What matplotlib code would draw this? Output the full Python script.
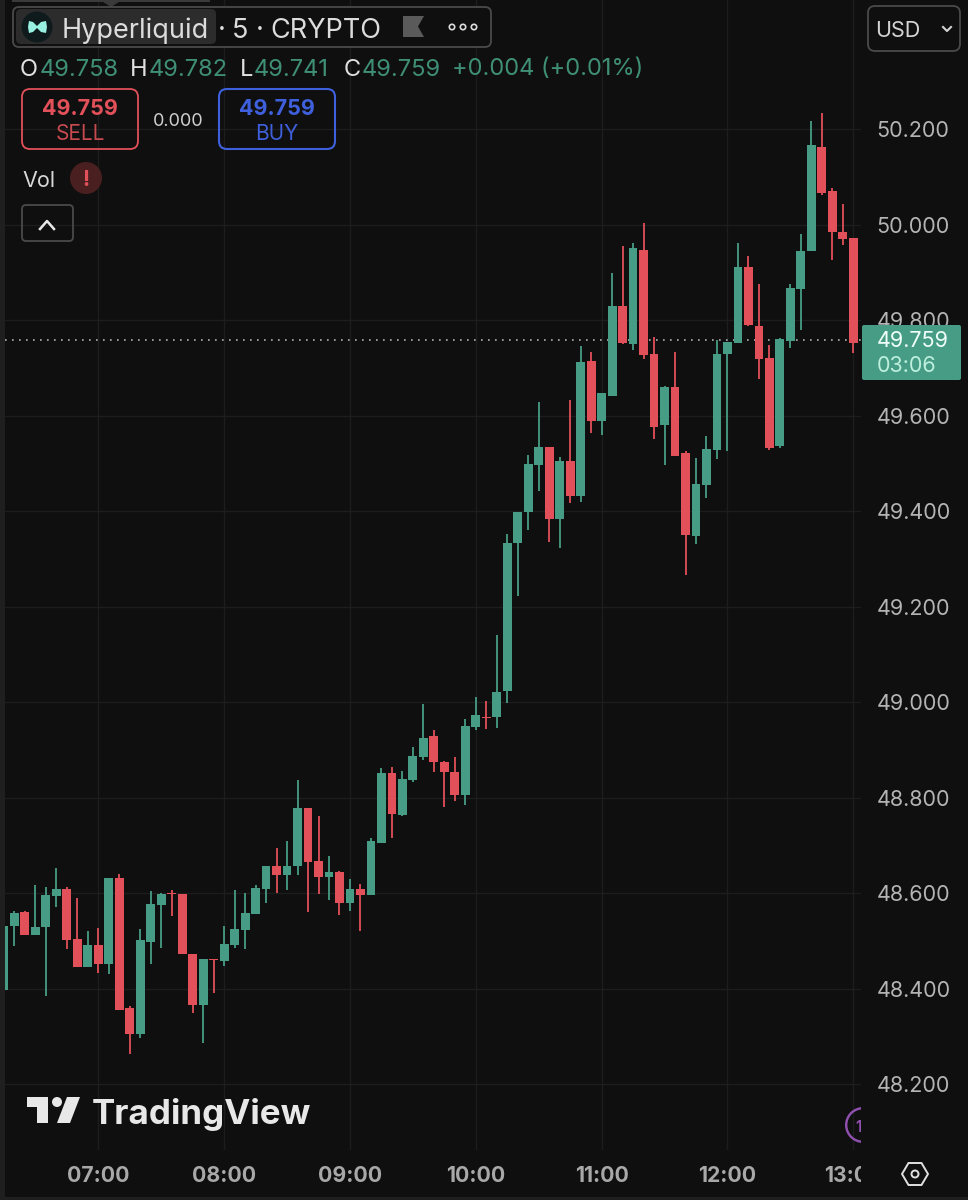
import matplotlib
matplotlib.use("Agg")
import matplotlib.pyplot as plt
from matplotlib.patches import FancyBboxPatch, Rectangle, Circle, Polygon, Wedge

# ---- data ----
opens = [48.398,48.532,48.560,48.513,48.530,48.594,48.608,48.504,48.446,48.491,48.451,48.633,48.360,48.306,48.499,48.576,48.600,48.598,48.474,48.366,48.463,48.458,48.491,48.523,48.557,48.608,48.658,48.639,48.657,48.778,48.668,48.634,48.645,48.580,48.609,48.597,
         48.706,48.851,48.763,48.837,48.886,48.929,48.875,48.853,48.806,48.949,48.970,48.969,49.024,49.333,49.398,49.497,49.534,49.383,49.504,
         49.432,49.714,49.589,49.642,49.829,49.749,49.947,49.729,49.580,49.659,49.521,49.349,49.455,49.529,49.729,49.751,49.912,49.788,49.721,49.536,49.757,49.866,49.945,50.163,50.071,49.985,49.972]
highs = [48.532,48.562,48.564,48.617,48.614,48.654,48.614,48.591,48.521,48.527,48.633,48.640,48.365,48.525,48.605,48.600,48.607,48.598,48.474,48.463,48.463,48.532,48.606,48.600,48.617,48.658,48.695,48.710,48.837,48.778,48.761,48.678,48.647,48.630,48.620,48.715,
         48.862,48.864,48.856,48.907,48.996,48.941,48.877,48.886,48.964,49.012,49.002,49.141,49.352,49.399,49.518,49.629,49.534,49.513,49.633,
         49.746,49.734,49.648,49.899,49.956,49.961,50.004,49.764,49.663,49.734,49.526,49.511,49.558,49.758,49.755,49.961,49.934,49.876,49.747,49.762,49.875,49.980,50.217,50.233,50.076,50.043,49.972]
lows = [48.398,48.490,48.512,48.513,48.385,48.572,48.483,48.446,48.446,48.434,48.432,48.356,48.263,48.297,48.451,48.486,48.553,48.473,48.349,48.286,48.392,48.448,48.486,48.483,48.557,48.580,48.600,48.606,48.639,48.560,48.598,48.585,48.555,48.562,48.521,48.597,
        48.706,48.715,48.762,48.832,48.879,48.853,48.780,48.793,48.784,48.941,48.944,48.947,48.999,49.223,49.361,49.442,49.336,49.322,49.418,
        49.420,49.563,49.559,49.642,49.750,49.737,49.718,49.552,49.497,49.515,49.266,49.331,49.428,49.510,49.525,49.751,49.788,49.677,49.528,49.532,49.742,49.779,49.945,50.062,49.926,49.957,49.732]
closes = [48.532,48.558,48.512,48.529,48.597,48.608,48.502,48.446,48.491,48.451,48.633,48.356,48.306,48.502,48.577,48.599,48.598,48.473,48.366,48.462,48.460,48.494,48.525,48.558,48.612,48.658,48.639,48.658,48.778,48.666,48.634,48.645,48.580,48.609,48.597,48.709,
          48.851,48.765,48.839,48.888,48.925,48.874,48.855,48.806,48.950,48.973,48.968,49.021,49.334,49.399,49.499,49.534,49.383,49.504,49.432,
          49.713,49.589,49.648,49.829,49.753,49.950,49.727,49.577,49.659,49.515,49.351,49.457,49.530,49.730,49.755,49.912,49.790,49.718,49.532,49.760,49.867,49.945,50.166,50.067,49.984,49.970,49.753]
first_bar = -9                     # bars relative to 07:00, 5-minute bars
hour_ticks = [0, 12, 24, 36, 48, 60, 72]
hour_labels = ["07:00", "08:00", "09:00", "10:00", "11:00", "12:00", "13:00"]
price_ticks = [48.2, 48.4, 48.6, 48.8, 49.0, 49.2, 49.4, 49.6, 49.8, 50.0, 50.2]
last_price = 49.759

BG = "#0f0f0f"; GREEN = "#479c85"; RED = "#e2505a"; GRID = "#1d1d1d"; BLUE = "#3f60dc"
W, H = 968, 1200
plt.rcParams["font.family"] = ["Inter", "DejaVu Sans"]

fig = plt.figure(figsize=(W/100, H/100), dpi=100, facecolor=BG)
L, R, T, B = 5, 861, 0, 1150
ax = fig.add_axes([L/W, 1-B/H, (R-L)/W, (B-T)/H], facecolor=BG)
px_bar = 10.486; px_unit = 477.7; x0 = 98.3
ax.set_xlim((L-x0)/px_bar, (R-x0)/px_bar)
ax.set_ylim(50.2-(B-129)/px_unit, 50.2+129/px_unit)

for s in ax.spines.values():
    s.set_visible(False)
ax.set_axisbelow(True)
ax.grid(True, color=GRID, lw=1.0)
ax.yaxis.tick_right()
ax.set_yticks(price_ticks, [f"{p:.3f}" for p in price_ticks])
ax.set_xticks(hour_ticks, hour_labels)
ax.tick_params(axis="y", length=0, pad=11, labelsize=15.5, labelcolor="#b4b4b4")
ax.tick_params(axis="x", length=0, pad=11.7, labelsize=15.3, labelcolor="#a8a8a8")
for t in ax.get_xticklabels():
    t.set_fontweight("bold")

ax.axhline(last_price, color="#b0b0b0", lw=1.2, ls=(0, (1, 3.2)), zorder=1.5)

xs = [first_bar + i for i in range(len(opens))]
cols = [GREEN if c >= o else RED for o, c in zip(opens, closes)]
ax.vlines(xs, lows, highs, colors=cols, lw=1.3, zorder=2)
ax.bar(xs, [abs(c-o) for o, c in zip(opens, closes)],
       bottom=[min(o, c) for o, c in zip(opens, closes)],
       width=0.84, color=cols, linewidth=0, zorder=3)

# ---- overlay in pixel space ----
ov = fig.add_axes([0, 0, 1, 1], zorder=10)
ov.set_xlim(0, W); ov.set_ylim(H, 0); ov.axis("off"); ov.patch.set_alpha(0)

def box(x0, y0, x1, y1, r, ec, fc="none", lw=1.3, z=2):
    ov.add_patch(FancyBboxPatch((x0+r, y0+r), x1-x0-2*r, y1-y0-2*r,
                                boxstyle=f"round,pad={r},rounding_size={r}",
                                ec=ec, fc=fc, lw=lw, zorder=z))

def txt(x, y, s, c, size, ha="left", w="normal", z=5):
    ov.text(x, y, s, color=c, fontsize=size, ha=ha, va="center_baseline", fontweight=w, zorder=z)

# panels that mask the chart's edges
ov.add_patch(Rectangle((0, 0), 5, H, fc="#1f1f1f", ec="none", zorder=1))
ov.add_patch(Rectangle((R, B), W-R, H-B, fc=BG, ec="none", zorder=1))
ov.add_patch(Rectangle((0, 1197), W, 3, fc="#1f1f1f", ec="none", zorder=1))

# tooltip pointer above the title
ov.add_patch(Rectangle((12, 0), 198, 2, fc="#3a3a3a", ec="none", zorder=2))
ov.add_patch(Polygon([(100, 0), (122, 0), (111, 7)], fc="#3a3a3a", ec="none", zorder=2))

# title bar
box(13, 7, 491, 47, 6, "#4a4a4a", BG)
box(16, 9, 216, 44, 5, "none", "#2c2c2c", z=3)
ov.add_patch(Circle((37, 27), 15.5, fc="#0f1a1c", ec="none", zorder=4))
ov.add_patch(Polygon([(29, 21), (33, 22), (37, 26), (41, 22), (46, 21), (47, 27), (46, 33),
                      (41, 32), (37, 28), (33, 32), (29, 33), (28, 27)],
                     fc="#97f0e0", ec="none", zorder=5))
txt(62, 28, "Hyperliquid", "#dcdcdc", 19.5)
txt(218, 28, "·", "#dcdcdc", 19.5)
txt(232, 28, "5", "#dcdcdc", 19.5)
txt(256, 28, "·", "#dcdcdc", 19.5)
txt(270, 28, "CRYPTO", "#dcdcdc", 19.5)
ov.add_patch(Polygon([(403, 16), (424, 16), (418, 26.5), (424, 37), (403, 37)], fc="#5a5a5a", ec="none", zorder=4))
for cx in (452, 463, 474):
    ov.add_patch(Circle((cx, 27), 2.7, fc="none", ec="#dcdcdc", lw=1.2, zorder=4))

# OHLC line
OHLC = "#3f8f76"
for x, lab in [(20, "O"), (130, "H"), (240, "L"), (344, "C")]:
    txt(x, 67, lab, "#e0e0e0", 17)
for x, val in [(40, "49.758"), (149, "49.782"), (254, "49.741"), (362, "49.759"), (452, "+0.004 (+0.01%)")]:
    txt(x, 67, val, OHLC, 17)

# sell / buy
box(22, 89, 138, 149, 8, RED)
txt(80, 107, "49.759", RED, 15.5, "center", "bold")
txt(80, 132, "SELL", "#c64a50", 15, "center")
txt(178, 119, "0.000", "#d0d0d0", 13, "center")
box(219, 89, 335, 149, 8, BLUE, lw=1.5)
txt(277, 107, "49.759", BLUE, 15.5, "center", "bold")
txt(277, 132, "BUY", BLUE, 15, "center")

# Vol row
txt(22, 179, "Vol", "#d8d8d8", 15.5)
ov.add_patch(Circle((86, 178), 16, fc="#4a1f20", ec="none", zorder=3))
txt(86, 178, "!", "#e2505a", 15, "center", "bold")
box(22, 205, 73, 241, 4, "#4a4a4a")
ov.plot([40, 47, 54], [229, 221, 229], color="#e8e8e8", lw=1.8, zorder=4)

# currency selector
box(868, 6, 960, 51, 7, "#4a4a4a")
txt(875, 29, "USD", "#d4d4d4", 15.5)
ov.plot([943, 947, 951], [27, 31, 27], color="#d4d4d4", lw=1.5, zorder=4)

# last price tag
box(862, 325, 961, 380, 2, "none", GREEN, z=3)
txt(877, 339, "49.759", "#f0fff9", 15.5)
txt(877, 364, "03:06", "#bdf0de", 15.5)

# TradingView logo
LOGO = "#e8e8e8"
ov.add_patch(Polygon([(27, 1097), (48, 1097), (48, 1123), (37, 1123), (37, 1107), (27, 1107)],
                     fc=LOGO, ec="none", zorder=4))
ov.add_patch(Circle((57, 1102), 5, fc=LOGO, ec="none", zorder=4))
ov.add_patch(Polygon([(67, 1097), (80, 1097), (70, 1123), (57, 1123)], fc=LOGO, ec="none", zorder=4))
txt(92, 1111, "TradingView", LOGO, 25.2, w="bold")

# clipped circle badge
ov.add_patch(Wedge((863, 1125), 18, 90, 270, width=2.4, fc="#9050b0", ec="none", zorder=4))
txt(859, 1126, "1", "#9050b0", 11, "center", "bold")
ov.add_patch(Rectangle((R, 1100), 30, 50, fc=BG, ec="none", zorder=6))

# settings hexagon
ov.add_patch(Polygon([(902, 1174), (908.5, 1163), (921.5, 1163), (928, 1174), (921.5, 1185), (908.5, 1185)],
                     fc="none", ec="#e0e0e0", lw=1.4, zorder=4))
ov.add_patch(Circle((915, 1174), 3.5, fc="none", ec="#e0e0e0", lw=1.4, zorder=4))

fig.savefig("out.png", dpi=100, facecolor=BG)
